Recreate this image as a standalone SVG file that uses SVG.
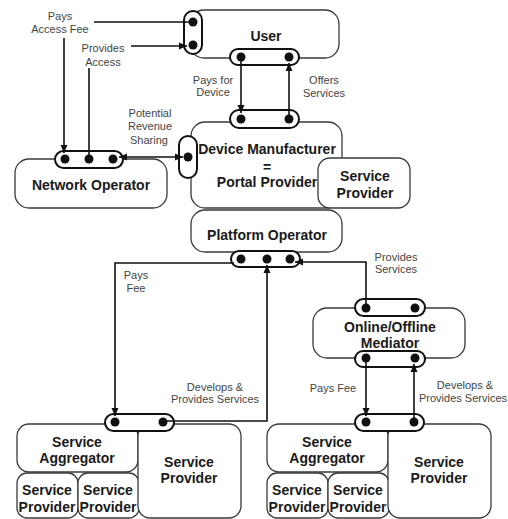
<svg xmlns="http://www.w3.org/2000/svg" width="508" height="519" viewBox="0 0 508 519">
<style>
.box{fill:#fff;stroke:#3a3a3a;stroke-width:1.3}
.pill{fill:#fff;stroke:#111;stroke-width:2}
.dot{fill:#111}
.t{font-family:"Liberation Sans",Arial,sans-serif;font-weight:bold;font-size:14px;fill:#1a1a1a;text-anchor:middle}
.l{font-family:"Liberation Sans",Arial,sans-serif;font-size:11px;fill:#444;text-anchor:middle}
.c{fill:none;stroke:#111;stroke-width:1.6}
</style>
<defs>
<marker id="ah" markerUnits="userSpaceOnUse" markerWidth="9" markerHeight="8" refX="8" refY="4" orient="auto-start-reverse"><path d="M0,0.5 L8,4 L0,7.5 z" fill="#111"/></marker>
</defs>
<rect width="508" height="519" fill="#fff"/>

<g id="user">
<rect class="box" x="190" y="10" width="149" height="48" rx="14"/>
<text class="t" x="266" y="41">User</text>
<rect class="pill" x="184" y="11" width="18" height="43" rx="9"/>
<circle class="dot" cx="193" cy="22" r="4.5"/>
<circle class="dot" cx="193" cy="45" r="4.5"/>
<rect class="pill" x="230" y="49" width="69" height="16" rx="8"/>
<circle class="dot" cx="241" cy="57" r="4.5"/>
<circle class="dot" cx="289" cy="57" r="4.5"/>
</g>

<g id="network-operator">
<rect class="box" x="15" y="159" width="152" height="49" rx="14"/>
<text class="t" x="91" y="190">Network Operator</text>
<rect class="pill" x="55" y="151" width="68" height="17" rx="8.5"/>
<circle class="dot" cx="65" cy="159" r="4.5"/>
<circle class="dot" cx="89" cy="159" r="4.5"/>
<circle class="dot" cx="113" cy="159" r="4.5"/>
</g>

<g id="device-manufacturer">
<rect class="box" x="191" y="122" width="151" height="86" rx="14"/>
<text class="t" x="267" y="154">Device Manufacturer</text>
<text class="t" x="267" y="172">=</text>
<text class="t" x="267" y="187">Portal Provider</text>
<rect class="pill" x="230" y="110" width="69" height="18" rx="9"/>
<circle class="dot" cx="241" cy="119" r="4.5"/>
<circle class="dot" cx="289" cy="119" r="4.5"/>
<rect class="pill" x="179" y="136" width="18" height="42" rx="9"/>
<circle class="dot" cx="188" cy="157" r="4.5"/>
</g>

<g id="service-provider-portal">
<rect class="box" x="318" y="158" width="92" height="50" rx="12"/>
<text class="t" x="365" y="181">Service</text>
<text class="t" x="365" y="198">Provider</text>
</g>

<g id="platform-operator">
<rect class="box" x="191" y="210" width="151" height="42" rx="14"/>
<text class="t" x="267" y="240">Platform Operator</text>
<rect class="pill" x="231" y="251" width="69" height="16" rx="8"/>
<circle class="dot" cx="241" cy="259" r="4.5"/>
<circle class="dot" cx="267" cy="259" r="4.5"/>
<circle class="dot" cx="290" cy="259" r="4.5"/>
</g>

<g id="mediator">
<rect class="box" x="313" y="308" width="152" height="50" rx="14"/>
<text class="t" x="390" y="332">Online/Offline</text>
<text class="t" x="390" y="348">Mediator</text>
<rect class="pill" x="355" y="299" width="70" height="17" rx="8.5"/>
<circle class="dot" cx="366" cy="308" r="4.5"/>
<circle class="dot" cx="415" cy="308" r="4.5"/>
<rect class="pill" x="355" y="351" width="70" height="16" rx="8"/>
<circle class="dot" cx="366" cy="358" r="4.5"/>
<circle class="dot" cx="415" cy="358" r="4.5"/>
</g>

<g id="left-group">
<rect class="box" x="17" y="424" width="121" height="48" rx="12"/>
<text class="t" x="77" y="447">Service</text>
<text class="t" x="77" y="463">Aggregator</text>
<rect class="box" x="17" y="473" width="61" height="45" rx="10"/>
<text class="t" x="47" y="495">Service</text>
<text class="t" x="47" y="512">Provider</text>
<rect class="box" x="78" y="473" width="61" height="45" rx="10"/>
<text class="t" x="108" y="495">Service</text>
<text class="t" x="108" y="512">Provider</text>
<rect class="box" x="138" y="424" width="103" height="94" rx="12"/>
<text class="t" x="189" y="467">Service</text>
<text class="t" x="189" y="483">Provider</text>
<rect class="pill" x="105" y="414" width="69" height="17" rx="8.5"/>
<circle class="dot" cx="115" cy="422" r="4.5"/>
<circle class="dot" cx="163" cy="422" r="4.5"/>
</g>

<g id="right-group">
<rect class="box" x="267" y="424" width="121" height="48" rx="12"/>
<text class="t" x="327" y="447">Service</text>
<text class="t" x="327" y="463">Aggregator</text>
<rect class="box" x="267" y="473" width="61" height="45" rx="10"/>
<text class="t" x="297" y="495">Service</text>
<text class="t" x="297" y="512">Provider</text>
<rect class="box" x="328" y="473" width="61" height="45" rx="10"/>
<text class="t" x="358" y="495">Service</text>
<text class="t" x="358" y="512">Provider</text>
<rect class="box" x="388" y="424" width="103" height="94" rx="12"/>
<text class="t" x="439" y="467">Service</text>
<text class="t" x="439" y="483">Provider</text>
<rect class="pill" x="355" y="414" width="69" height="17" rx="8.5"/>
<circle class="dot" cx="366" cy="422" r="4.5"/>
<circle class="dot" cx="414" cy="422" r="4.5"/>
</g>

<g id="connectors">
<path class="c" d="M193,22 H94"/>
<path class="c" d="M64,38 V153" marker-end="url(#ah)"/>
<path class="c" d="M89,159 V68"/>
<path class="c" d="M131,46 H187" marker-end="url(#ah)"/>
<path class="c" d="M119,157 H183" marker-start="url(#ah)" marker-end="url(#ah)"/>
<path class="c" d="M241,57 V113" marker-end="url(#ah)"/>
<path class="c" d="M289,119 V63" marker-end="url(#ah)"/>
<path class="c" d="M366,308 V262 H295" marker-end="url(#ah)"/>
<path class="c" d="M234,263 H115 V416" marker-end="url(#ah)"/>
<path class="c" d="M163,421 H267 V265" marker-end="url(#ah)"/>
<path class="c" d="M366,358 V416" marker-end="url(#ah)"/>
<path class="c" d="M414,422 V364" marker-end="url(#ah)"/>
</g>

<g id="labels">
<text class="l" x="60" y="20">Pays</text>
<text class="l" x="60" y="33">Access Fee</text>
<text class="l" x="103" y="52">Provides</text>
<text class="l" x="103" y="66">Access</text>
<text class="l" x="213" y="84">Pays for</text>
<text class="l" x="213" y="96">Device</text>
<text class="l" x="324" y="84">Offers</text>
<text class="l" x="324" y="97">Services</text>
<text class="l" x="150" y="117">Potential</text>
<text class="l" x="150" y="130">Revenue</text>
<text class="l" x="149" y="144">Sharing</text>
<text class="l" x="396" y="261">Provides</text>
<text class="l" x="396" y="273">Services</text>
<text class="l" x="136" y="279">Pays</text>
<text class="l" x="136" y="292">Fee</text>
<text class="l" x="215" y="391">Develops &amp;</text>
<text class="l" x="215" y="403">Provides Services</text>
<text class="l" x="333" y="392">Pays Fee</text>
<text class="l" x="465" y="389">Develops &amp;</text>
<text class="l" x="463" y="402">Provides Services</text>
</g>
</svg>
